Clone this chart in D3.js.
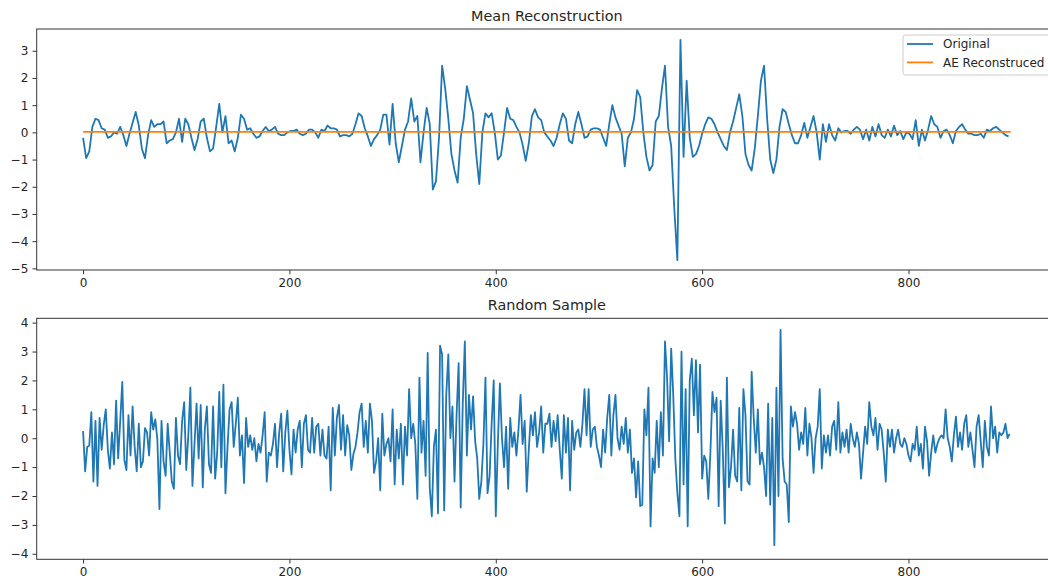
<!DOCTYPE html>
<html>
<head>
<meta charset="utf-8">
<script src="https://cdn.jsdelivr.net/npm/d3@7"></script>
<style>
  body { margin: 0; background: #fff; }
  svg text { font-family: "DejaVu Sans", sans-serif; fill: #262626; }
</style>
</head>
<body>
<svg id="chart" width="1048" height="581"></svg>
<script>
var xTicks = [0, 200, 400, 600, 800];
var topTicks = [3, 2, 1, 0, -1, -2, -3, -4, -5];
var bottomTicks = [4, 3, 2, 1, 0, -1, -2, -3, -4];

// "Original" series, one value every 3 samples
var originalStep = 3;
var originalVals = [
  -0.2,-0.95,-0.7,0.2,0.5,0.45,0.15,0.1,-0.2,-0.15,
  0.0,-0.05,0.2,-0.1,-0.5,-0.05,0.35,0.75,0.25,-0.6,
  -0.95,-0.1,0.45,0.2,0.3,0.3,0.4,-0.4,-0.3,-0.25,
  0.0,0.5,-0.35,0.5,0.3,-0.2,-0.65,-0.25,0.4,0.5,
  -0.2,-0.7,-0.6,0.2,1.05,0.0,0.6,-0.4,-0.3,-0.7,
  -0.2,0.65,0.5,0.1,0.15,-0.05,-0.2,-0.15,0.05,0.2,
  0.05,0.1,0.2,-0.05,-0.1,-0.1,0.0,0.05,0.05,0.1,
  -0.05,-0.1,-0.05,0.1,0.1,0.0,-0.2,0.1,0.05,0.25,
  0.15,0.15,0.1,-0.15,-0.1,-0.1,-0.15,-0.05,0.3,0.7,
  0.6,0.15,-0.15,-0.5,-0.25,-0.1,0.1,0.65,0.65,-0.45,
  1.05,-0.4,-1.1,-0.5,0.1,0.4,1.25,0.4,0.6,-1.1,
  0.0,0.9,0.3,-2.1,-1.8,-0.2,2.45,1.6,0.5,-0.8,
  -1.4,-1.85,-0.2,0.5,1.7,1.2,0.7,-0.8,-1.9,0.0,
  0.7,0.55,0.7,0.0,-1.0,-0.85,0.0,0.9,0.5,0.45,
  0.2,0.0,-0.45,-1.05,-0.4,0.6,0.85,0.55,0.45,0.0,
  -0.15,-0.3,-0.5,-0.2,0.3,0.7,0.5,-0.3,-0.4,0.3,
  0.75,0.3,-0.2,-0.15,0.1,0.15,0.15,0.1,-0.2,-0.5,
  0.3,1.0,0.55,0.25,-0.05,-1.25,-0.2,0.0,0.5,1.55,
  1.3,0.0,-0.9,-1.4,-1.2,0.4,0.6,1.6,2.45,0.2,
  -0.5,-2.8,-4.7,3.4,-0.9,1.9,-0.2,-0.9,-0.8,-0.5,
  -0.05,0.3,0.55,0.5,0.3,0.0,-0.25,-0.5,-0.65,0.0,
  0.4,0.9,1.4,0.6,-0.8,-1.2,-1.4,-0.6,0.6,1.9,
  2.45,0.5,-1.0,-1.5,-1.0,0.2,0.85,0.75,0.3,-0.1,
  -0.4,-0.4,-0.1,0.35,-0.2,0.2,0.6,0.0,-1.0,0.3,
  -0.35,0.3,-0.1,-0.3,0.15,0.0,0.05,0.05,-0.05,0.1,
  0.2,0.1,-0.25,0.1,-0.3,0.2,-0.15,0.3,-0.1,-0.2,
  0.1,-0.15,0.25,-0.1,0.05,-0.25,0.0,-0.05,-0.25,0.45,
  -0.5,0.1,-0.3,0.1,0.6,0.3,0.2,-0.2,0.05,0.1,
  -0.1,-0.4,0.05,0.2,0.3,0.1,-0.05,-0.05,-0.1,-0.1,
  -0.05,-0.2,0.1,0.05,0.15,0.2,0.1,0.0,-0.1,-0.15
];

// AE reconstruction (flat mean)
var aeIdx = [0, 899];
var aeVals = [0.02, 0.02];

// random sample series, one value every 2 samples
var sampleStep = 2;
var sampleVals = [
  0.25,-1.15,-0.3,-0.25,0.9,-1.5,0.6,-1.65,0.7,-0.4,
  0.45,1.0,-0.4,-1.05,0.2,-0.9,1.3,-0.7,0.6,1.95,
  -0.75,-1.1,0.8,-0.6,1.1,-0.3,-1.15,0.5,-1.0,-0.8,
  0.35,0.2,-0.6,0.9,0.3,0.65,-0.05,-2.45,0.6,-0.8,
  -1.3,0.5,-0.5,-1.5,-1.75,0.7,-0.6,-0.9,0.6,1.25,
  -1.1,0.1,1.75,-1.65,-0.2,1.2,-0.7,1.15,-1.7,0.3,
  1.1,-0.9,-1.2,1.1,-1.4,-0.5,1.6,-1.0,1.85,-1.9,
  -0.3,1.0,1.25,-0.3,0.5,1.4,-0.6,0.1,-1.55,0.7,
  -0.3,0.1,-0.4,0.0,-0.8,-0.2,-0.5,0.1,0.9,-1.5,
  -0.5,-0.6,-0.2,0.5,-1.0,0.15,0.85,-1.15,0.2,0.95,
  -0.4,-1.25,0.3,-0.5,0.3,0.6,-1.0,0.5,0.8,-0.4,
  -0.5,0.7,-0.5,0.4,0.5,-0.6,0.3,-0.6,-0.7,0.4,
  -1.8,1.05,-0.6,0.7,1.15,-0.4,0.8,-0.6,0.45,0.1,
  -1.1,-0.55,-0.3,0.2,0.9,1.2,-0.3,0.6,-0.5,1.2,
  0.6,-1.2,-0.8,0.0,-1.8,0.85,-0.6,-0.2,0.0,-0.8,
  1.0,-1.6,0.3,-0.7,0.5,-1.6,0.4,-0.6,1.7,0.0,
  0.5,-0.2,-2.1,2.1,-0.5,0.6,-1.3,2.95,-1.7,-2.7,
  -0.3,0.3,-2.6,3.2,2.9,-2.5,1.5,2.9,0.0,1.1,
  -1.5,0.8,2.6,-2.4,1.2,3.35,-0.6,1.5,0.3,1.45,
  -0.1,-0.7,-2.1,-1.5,-0.2,2.1,-1.9,-1.3,0.5,2.0,
  -2.7,-0.2,1.9,0.0,-1.0,0.4,-1.75,0.7,-0.3,0.2,
  -0.6,0.3,1.5,-0.2,0.6,-1.85,-0.4,0.8,0.1,0.9,
  -0.3,0.2,1.1,-0.5,0.5,0.5,0.85,-0.3,0.6,-0.1,
  0.8,-0.4,-1.4,0.8,-0.5,0.7,-1.8,0.6,-0.4,0.2,
  0.3,-0.3,0.5,1.7,0.1,1.7,-0.3,0.3,0.4,-0.3,
  -0.6,-1.0,0.3,-0.5,0.7,1.5,-0.6,0.8,1.5,0.0,
  -0.4,0.4,-0.2,0.7,-0.5,0.3,-1.2,-0.7,-2.05,-0.8,
  -2.35,-2.3,1.0,0.1,1.75,-3.05,-0.7,-1.2,0.6,-1.0,
  0.9,-0.6,3.35,2.1,-0.1,3.1,1.5,-0.7,-1.9,-2.7,
  3.0,-1.6,1.7,-3.05,2.0,2.75,0.8,2.7,0.2,2.55,
  -1.4,-0.6,-0.8,-2.1,-0.5,1.6,0.9,1.4,-2.35,1.3,
  -0.4,-2.95,2.1,-1.7,-1.0,0.3,-1.3,-1.5,1.05,-1.8,
  1.7,0.8,-1.5,-1.6,2.3,0.7,-0.5,1.0,-0.9,-0.5,
  -1.0,-2.0,1.2,-2.3,0.7,-3.7,1.75,-2.0,3.75,-0.7,
  -1.5,-1.6,-2.9,1.1,0.4,0.9,0.5,-0.4,0.2,-0.2,
  1.05,-0.6,0.5,0.0,-1.2,0.0,0.4,1.7,-1.05,0.1,
  -0.5,0.1,-0.6,0.4,0.6,-0.4,1.25,-0.5,0.2,-0.3,
  0.3,-0.5,0.5,0.0,-0.3,0.2,-0.2,-1.4,-0.5,0.4,
  -0.2,1.25,0.4,0.1,0.7,-0.4,0.5,0.3,-0.5,-1.5,
  0.3,-0.3,0.3,-0.5,0.0,0.3,-0.2,-0.3,0.0,-0.2,
  -0.6,-0.8,-0.2,-0.4,0.4,-0.6,-0.2,-1.05,0.4,-0.1,
  -1.3,-0.5,0.1,-0.5,-0.2,0.0,0.1,0.0,1.0,0.0,
  -0.3,-0.8,0.1,0.75,-0.3,0.2,-0.4,0.5,0.8,-0.3,
  0.2,-0.4,-1.0,0.4,0.8,-0.1,-1.0,0.6,-0.3,-0.6,
  1.1,0.0,0.4,-0.5,0.2,0.1,0.2,0.5,0.0,0.15
];

var blue = "#1f77b4", orange = "#ff7f0e";
var svg = d3.select("#chart");
var left = 36.7, right = 1057;
var x = d3.scaleLinear().domain([-44.95, 943.95]).range([left, right]);

function panel(top, bottom, yDomain, yTicks, title) {
  var y = d3.scaleLinear().domain(yDomain).range([bottom, top]);
  var g = svg.append("g");

  var line = d3.line()
      .x(function(d) { return x(d[0]); })
      .y(function(d) { return y(d[1]); });

  g.append("text")
      .attr("x", (left + right) / 2)
      .attr("y", top - 8)
      .attr("text-anchor", "middle")
      .attr("font-size", 14.4)
      .text(title);

  var xa = g.append("g")
      .attr("transform", "translate(0," + bottom + ")")
      .call(d3.axisBottom(x).tickValues(xTicks).tickSize(4.2).tickSizeOuter(0).tickPadding(4.2));
  var ya = g.append("g")
      .attr("transform", "translate(" + left + ",0)")
      .call(d3.axisLeft(y).tickValues(yTicks).tickSize(4.2).tickSizeOuter(0).tickPadding(4.2));
  [xa, ya].forEach(function(a) {
    a.attr("font-size", 12).attr("font-family", "DejaVu Sans");
    a.select(".domain").remove();
    a.selectAll(".tick line").attr("stroke", "#333").attr("stroke-width", 1);
    a.selectAll(".tick text").attr("fill", "#262626");
  });

  return { g: g, y: y, line: line, top: top, bottom: bottom };
}

function frame(p) {
  p.g.append("rect")
      .attr("x", left).attr("y", p.top)
      .attr("width", right - left).attr("height", p.bottom - p.top)
      .attr("fill", "none").attr("stroke", "#333").attr("stroke-width", 1);
}

// top panel
var p1 = panel(29, 270, [-5.06, 3.80], topTicks, "Mean Reconstruction");
p1.g.append("path")
    .datum(originalVals.map(function(v, i) { return [i * originalStep, v]; }))
    .attr("d", p1.line)
    .attr("fill", "none").attr("stroke", blue).attr("stroke-width", 1.8)
    .attr("stroke-linejoin", "round");
p1.g.append("path")
    .datum(aeIdx.map(function(v, i) { return [v, aeVals[i]]; }))
    .attr("d", p1.line)
    .attr("fill", "none").attr("stroke", orange).attr("stroke-width", 1.8);
frame(p1);

// legend
var lg = svg.append("g").attr("transform", "translate(903,35)");
lg.append("rect")
    .attr("width", 150).attr("height", 40).attr("rx", 2.5)
    .attr("fill", "#fff").attr("fill-opacity", 0.8)
    .attr("stroke", "#ccc").attr("stroke-width", 1);
var legendItems = [["Original", blue], ["AE Reconstruced", orange]];
legendItems.forEach(function(it, i) {
  var yy = 9 + i * 18.4;
  lg.append("line").attr("x1", 4).attr("x2", 30).attr("y1", yy).attr("y2", yy)
      .attr("stroke", it[1]).attr("stroke-width", 1.8);
  lg.append("text").attr("x", 40).attr("y", yy + 4.3).attr("font-size", 12).text(it[0]);
});

// bottom panel
var p2 = panel(318.3, 559.3, [-4.19, 4.15], bottomTicks, "Random Sample");
p2.g.append("path")
    .datum(sampleVals.map(function(v, i) { return [i * sampleStep, v]; }))
    .attr("d", p2.line)
    .attr("fill", "none").attr("stroke", blue).attr("stroke-width", 1.8)
    .attr("stroke-linejoin", "round");
frame(p2);
</script>
</body>
</html>
